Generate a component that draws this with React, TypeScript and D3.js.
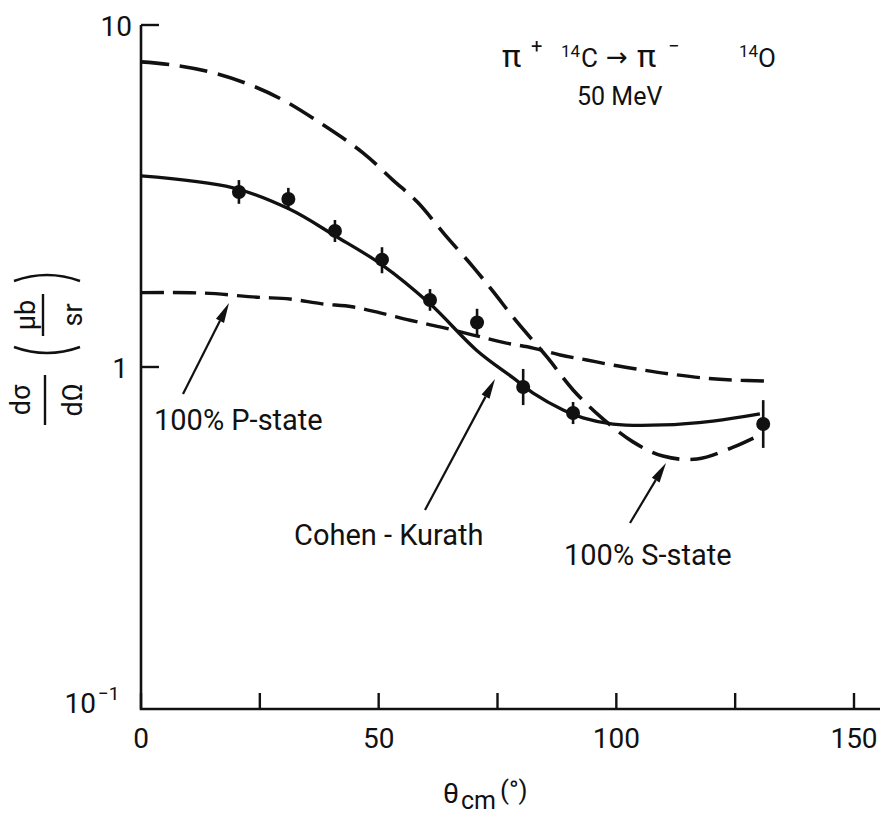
import React, { useEffect, useRef } from "react";
import * as d3 from "d3";

// Cohen-Kurath calculation (solid)
const ckAngle = [0, 19.4, 31.1, 40.8, 50.7, 60.8, 70.7, 78.3, 82.5, 88.8, 93, 99.3, 109.8, 120.3, 130.2];
const ckValue = [3.62, 3.34, 2.9, 2.42, 1.99, 1.53, 1.116, 0.929, 0.839, 0.749, 0.71, 0.681, 0.677, 0.695, 0.729];

// 100% S-state (long dashes)
const sAngle = [0, 6.7, 14.5, 22.9, 29.9, 37.7, 46.7, 53, 58.1, 64, 69.9, 74.1, 79.1, 85.4, 90.9, 97, 103.5, 109.8, 117, 124.6, 130.2];
const sValue = [7.8, 7.64, 7.29, 6.69, 6.03, 5.17, 4.23, 3.52, 3.04, 2.43, 1.96, 1.66, 1.354, 1.07, 0.857, 0.709, 0.604, 0.549, 0.538, 0.583, 0.633];

// 100% P-state (short dashes)
const pAngle = [0, 13, 24.4, 31.3, 38.1, 44.4, 50.3, 56.6, 62.9, 69.9, 76.2, 82.5, 88.2, 93.8, 99.3, 105.6, 111.3, 118.2, 124.6, 131.5];
const pValue = [1.65, 1.645, 1.6, 1.58, 1.53, 1.5, 1.44, 1.37, 1.31, 1.24, 1.18, 1.136, 1.084, 1.048, 1.013, 0.98, 0.954, 0.929, 0.916, 0.91];

// measured points
const dataAngle = [20.6, 31, 40.8, 50.7, 60.8, 70.7, 80.4, 90.9, 130.9];
const dataValue = [3.25, 3.1, 2.5, 2.06, 1.57, 1.35, 0.874, 0.734, 0.681];
const dataHigh = [3.52, 3.34, 2.69, 2.24, 1.69, 1.48, 0.987, 0.79, 0.8];
const dataLow = [3.0, 2.88, 2.32, 1.88, 1.46, 1.24, 0.774, 0.681, 0.58];

const xTicks = [0, 25, 50, 75, 100, 125, 150];
const xTickLabels = [0, 50, 100, 150];
const yTicks = [10, 1];

const W = 882;
const H = 816;
const FONT = "Roboto, 'DejaVu Sans', sans-serif";
const INK = "#111";

export default function App() {
  const svgRef = useRef<SVGSVGElement>(null);

  useEffect(() => {
    if (!svgRef.current) return;
    const svg = d3.select(svgRef.current);
    svg.selectAll("*").remove();

    const x = d3.scaleLinear().domain([0, 150]).range([141, 854]);
    const y = d3.scaleLog().domain([0.1, 10]).range([709, 25]);

    const txt = (
      px: number,
      py: number,
      s: string,
      size: number,
      anchor = "start"
    ) =>
      svg
        .append("text")
        .attr("x", px)
        .attr("y", py)
        .attr("text-anchor", anchor)
        .attr("fill", INK)
        .style("font-family", FONT)
        .style("font-size", `${size}px`)
        .text(s);

    // axes
    svg
      .append("path")
      .attr("d", `M${x(0)},${y(10)} V${y(0.1)} H880`)
      .attr("fill", "none")
      .attr("stroke", INK)
      .attr("stroke-width", 2.6);

    xTicks.forEach((t) => {
      svg
        .append("line")
        .attr("x1", x(t))
        .attr("x2", x(t))
        .attr("y1", y(0.1))
        .attr("y2", y(0.1) - 16)
        .attr("stroke", INK)
        .attr("stroke-width", 2.4);
    });
    yTicks.forEach((t) => {
      svg
        .append("line")
        .attr("x1", x(0))
        .attr("x2", x(0) + 18)
        .attr("y1", y(t))
        .attr("y2", y(t))
        .attr("stroke", INK)
        .attr("stroke-width", 2.4);
    });

    xTickLabels.forEach((t) => txt(x(t), 748, String(t), 28, "middle"));
    txt(132, y(10) + 11, "10", 28, "end");
    txt(128, y(1) + 11, "1", 28, "end");
    txt(96, 713, "10", 28, "end");
    txt(98, 700, "\u22121", 19, "start");

    // x axis title
    txt(443, 803, "\u03b8", 28);
    txt(461, 809, "cm", 25);
    txt(500, 799, "(\u00b0)", 26);

    // y axis title, rotated
    const yl = svg.append("g").attr("transform", "translate(45,400) rotate(-90)");
    const ylt = (px: number, py: number, s: string, size = 27) =>
      yl
        .append("text")
        .attr("x", px)
        .attr("y", py)
        .attr("text-anchor", "middle")
        .attr("fill", INK)
        .style("font-family", FONT)
        .style("font-size", `${size}px`)
        .text(s);
    ylt(0, -15, "d\u03c3");
    ylt(0, 37, "d\u03a9");
    yl.append("line").attr("x1", -25).attr("x2", 25).attr("y1", 0).attr("y2", 0)
      .attr("stroke", INK).attr("stroke-width", 2.4);
    ylt(85, -10, "\u03bcb");
    ylt(85, 37, "sr");
    yl.append("line").attr("x1", 64).attr("x2", 106).attr("y1", -2).attr("y2", -2)
      .attr("stroke", INK).attr("stroke-width", 2.4);
    yl.append("path").attr("d", "M53,-31 Q41,2 53,35")
      .attr("fill", "none").attr("stroke", INK).attr("stroke-width", 2.4);
    yl.append("path").attr("d", "M119,-31 Q131,2 119,35")
      .attr("fill", "none").attr("stroke", INK).attr("stroke-width", 2.4);

    // curves
    const line = d3
      .line<[number, number]>()
      .x((d) => x(d[0]))
      .y((d) => y(d[1]))
      .curve(d3.curveCatmullRom);

    const drawCurve = (a: number[], v: number[], dash: string | null, w: number) => {
      const p = svg
        .append("path")
        .datum(a.map((t, i) => [t, v[i]] as [number, number]))
        .attr("fill", "none")
        .attr("stroke", INK)
        .attr("stroke-width", w)
        .attr("d", line);
      if (dash) p.attr("stroke-dasharray", dash);
    };
    drawCurve(sAngle, sValue, "28,11", 3.6);
    drawCurve(pAngle, pValue, "23,9", 3.4);
    drawCurve(ckAngle, ckValue, null, 3.3);

    // data points with error bars
    dataAngle.forEach((a, i) => {
      svg
        .append("line")
        .attr("x1", x(a))
        .attr("x2", x(a))
        .attr("y1", y(dataHigh[i]))
        .attr("y2", y(dataLow[i]))
        .attr("stroke", INK)
        .attr("stroke-width", 2.6);
      svg
        .append("circle")
        .attr("cx", x(a))
        .attr("cy", y(dataValue[i]))
        .attr("r", 7)
        .attr("fill", INK);
    });

    // annotations with arrows
    const arrow = (x1: number, y1: number, x2: number, y2: number) => {
      const ang = Math.atan2(y2 - y1, x2 - x1);
      const len = 20;
      const hw = 4.5;
      const bx = x2 - len * Math.cos(ang);
      const by = y2 - len * Math.sin(ang);
      const nx = -Math.sin(ang) * hw;
      const ny = Math.cos(ang) * hw;
      svg
        .append("line")
        .attr("x1", x1)
        .attr("y1", y1)
        .attr("x2", bx)
        .attr("y2", by)
        .attr("stroke", INK)
        .attr("stroke-width", 2.2);
      svg
        .append("path")
        .attr("d", `M${x2},${y2} L${bx + nx},${by + ny} L${bx - nx},${by - ny} Z`)
        .attr("fill", INK);
    };

    arrow(183, 394, 229, 303);
    txt(154, 430, "100% P-state", 29);
    arrow(425, 510, 495, 379);
    txt(294, 545, "Cohen - Kurath", 29);
    arrow(630, 523, 666, 463);
    txt(564, 565, "100% S-state", 29);

    // reaction label, pieces placed as in the original figure
    txt(502, 67, "\u03c0", 32);
    txt(531, 53, "+", 20);
    txt(561, 57, "14", 17);
    txt(581, 67, "C", 26);
    txt(606, 66, "\u2192", 26);
    txt(637, 67, "\u03c0", 32);
    txt(668, 53, "\u2212", 20);
    txt(739, 57, "14", 17);
    txt(758, 67, "O", 26);
    txt(577, 105, "50 MeV", 25);
  }, []);

  return (
    <svg
      ref={svgRef}
      width={W}
      height={H}
      viewBox={`0 0 ${W} ${H}`}
      style={{ position: "absolute", left: 0, top: 0, background: "#fff" }}
    />
  );
}
